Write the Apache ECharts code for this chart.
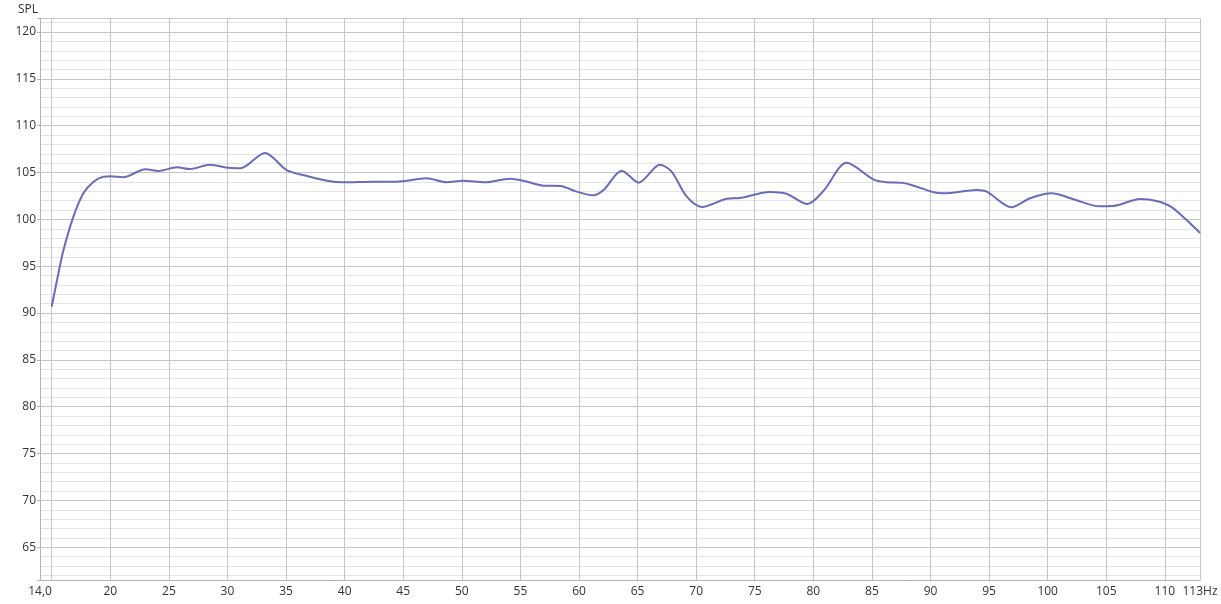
<!DOCTYPE html>
<html>
<head>
<meta charset="utf-8">
<script src="https://cdn.jsdelivr.net/npm/echarts@6/dist/echarts.min.js"></script>
<style>
html,body{margin:0;padding:0;background:#fff;}
#chart{width:1221px;height:604px;}
</style>
</head>
<body>
<div id="chart"></div>
<script>
const freqHz = [15.0,15.5,16.0,16.85,17.7,18.55,19.4,20.0,21.1,23.0,24.1,25.7,26.8,28.5,30.1,31.1,33.2,35.05,36.8,38.5,39.9,42.45,44.45,47.0,48.7,50.1,52.0,54.1,55.25,56.96,58.4,59.8,61.2,62.1,63.65,65.1,66.9,67.9,69.2,70.5,72.6,73.7,76.3,77.7,79.5,80.9,82.85,85.1,86.3,87.7,90.2,91.1,93.95,94.8,96.9,98.5,100.3,102.4,104.4,105.6,107.9,109.3,110.6,112.15,113.0];
const splDb = [90.7,93.8,96.7,100.3,102.8,104.0,104.55,104.6,104.5,105.35,105.17,105.56,105.38,105.84,105.5,105.45,107.1,105.27,104.63,104.13,103.96,104.03,104.03,104.38,103.96,104.13,103.96,104.35,104.13,103.6,103.56,102.96,102.57,103.14,105.2,103.92,105.84,105.1,102.42,101.32,102.2,102.28,102.92,102.74,101.64,103.1,106.05,104.28,103.96,103.88,102.92,102.78,103.14,102.96,101.29,102.25,102.78,102.07,101.4,101.43,102.18,101.96,101.29,99.58,98.55];
const xMin = 14, xMax = 113;
const yMin = 61.5, yMax = 121.5;
const xFirstLabel = '14,0';
const xLastLabel = '113Hz';
const yName = 'SPL';

const data = freqHz.map((f, i) => [f, splDb[i]]);
const font = "'Open Sans', 'DejaVu Sans', sans-serif";
const chart = echarts.init(document.getElementById('chart'), null, {renderer: 'canvas'});
chart.setOption({
  animation: false,
  backgroundColor: '#ffffff',
  grid: {left: 40, right: 21, top: 18, bottom: 24, containLabel: false},
  xAxis: {
    type: 'value', min: xMin, max: xMax,
    minInterval: 5, maxInterval: 5, splitNumber: 20,
    axisLine: {show: true, lineStyle: {color: '#b4b4b4', width: 1}},
    axisTick: {show: false},
    axisLabel: {
      color: '#333', fontFamily: font, fontSize: 12, margin: 6,
      showMinLabel: true, showMaxLabel: true,
      formatter: function (v) {
        if (Math.abs(v - xMin) < 1e-6) return xFirstLabel;
        if (Math.abs(v - xMax) < 1e-6) return xLastLabel;
        if (v % 5 !== 0) return '';
        return String(v);
      }
    },
    splitLine: {show: true, lineStyle: {color: '#c6c6c6', width: 1}}
  },
  yAxis: [
    {
      type: 'value', min: yMin, max: yMax,
      minInterval: 1, maxInterval: 1, splitNumber: 60,
      position: 'right',
      axisLine: {show: false}, axisTick: {show: false}, axisLabel: {show: false},
      splitLine: {show: true, lineStyle: {color: '#e3e3e3', width: 1}}
    },
    {
      type: 'value', min: yMin, max: yMax,
      minInterval: 5, maxInterval: 5, splitNumber: 12,
      position: 'left',
      name: yName, nameLocation: 'end', nameGap: 2,
      nameTextStyle: {color: '#333', fontFamily: font, fontSize: 12, align: 'right', padding: [0, 2, 0, 0]},
      axisLine: {show: true, lineStyle: {color: '#b4b4b4', width: 1}},
      axisTick: {show: true, length: 3, lineStyle: {color: '#b4b4b4'}},
      axisLabel: {
        color: '#333', fontFamily: font, fontSize: 12, margin: 4,
        formatter: function (v) { return (v % 5 === 0) ? String(v) : ''; }
      },
      splitLine: {show: true, lineStyle: {color: '#c6c6c6', width: 1}}
    }
  ],
  series: [{
    type: 'line', xAxisIndex: 0, yAxisIndex: 1,
    data: data, smooth: 0.3, showSymbol: false,
    lineStyle: {color: '#6b6bb6', width: 2},
    itemStyle: {color: '#6b6bb6'},
    z: 5
  }]
});
</script>
</body>
</html>
